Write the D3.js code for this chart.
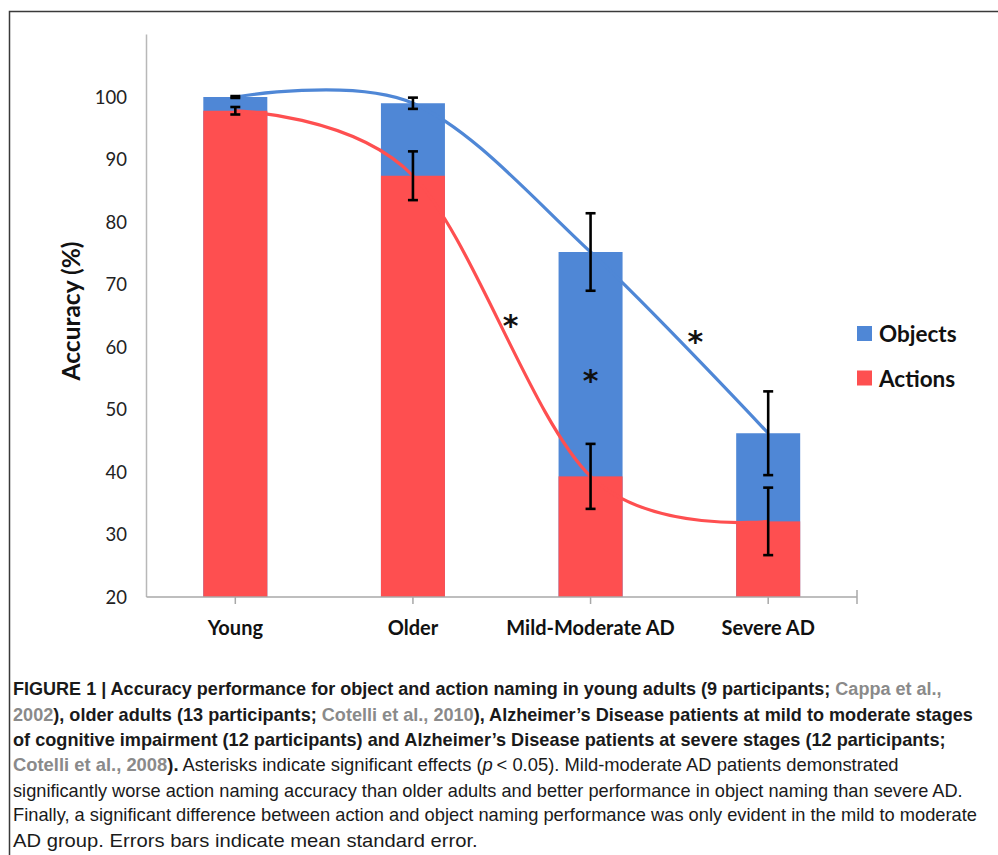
<!DOCTYPE html>
<html>
<head>
<meta charset="utf-8">
<script src="https://d3js.org/d3.v7.min.js"></script>
<style>
  body, html { margin: 0; padding: 0; background: #fff; }
  svg { display: block; }
</style>
</head>
<body>
<div id="chart"></div>
<script>
// data
var categories = ["Young", "Older", "Mild-Moderate AD", "Severe AD"];
var objects = [100.0, 99.0, 75.2, 46.2];
var objectsErr = [0.15, 0.9, 6.2, 6.7];
var actions = [97.8, 87.4, 39.3, 32.1];
var actionsErr = [0.6, 3.9, 5.2, 5.4];
var yTicks = [20, 30, 40, 50, 60, 70, 80, 90, 100];
// asterisks: position on the category axis (0 = Young) and value
var stars = [{pos: 1.55, val: 64.0}, {pos: 2.0, val: 55.2}, {pos: 2.59, val: 61.4}];

var blue = "#4f87d6", red = "#fe4f50";

var W = 998, H = 855;
var svg = d3.select("#chart").append("svg")
    .attr("width", W).attr("height", H);

// frame of the figure
svg.append("path")
    .attr("d", "M998,11.5H9.5V855")
    .attr("fill", "none")
    .attr("stroke", "#3a3a3a")
    .attr("stroke-width", 1.5);

var x = d3.scaleBand().domain(categories).range([146.5, 857]).padding(0);
var y = d3.scaleLinear().domain([20, 100]).range([597, 97]);
var cx = function(i) { return x(categories[i]) + x.bandwidth() / 2; };
var pos = function(p) { return x.range()[0] + x.bandwidth() * (p + 0.5); };
var barW = 64;

var font = "Lato, 'Open Sans', sans-serif";

// y axis
svg.append("line")
    .attr("x1", 146.5).attr("x2", 146.5)
    .attr("y1", y(110)).attr("y2", y(20))
    .attr("stroke", "#b8b8b8").attr("stroke-width", 1.5);

svg.append("g").selectAll("text").data(yTicks).join("text")
    .attr("x", 127).attr("y", function(d) { return y(d) + 6.5; })
    .attr("text-anchor", "end")
    .attr("font-family", font).attr("font-size", 18.5)
    .attr("fill", "#222")
    .text(function(d) { return d; });

svg.append("text")
    .attr("transform", "translate(80,311) rotate(-90)")
    .attr("text-anchor", "middle")
    .attr("font-family", font).attr("font-weight", "bold")
    .attr("font-size", 24.5).attr("fill", "#111")
    .text("Accuracy (%)");

// bars: objects behind, actions in front
svg.append("g").selectAll("rect").data(objects).join("rect")
    .attr("x", function(d, i) { return cx(i) - barW / 2; })
    .attr("width", barW)
    .attr("y", function(d) { return y(d); })
    .attr("height", function(d) { return y(20) - y(d); })
    .attr("fill", blue);

svg.append("g").selectAll("rect").data(actions).join("rect")
    .attr("x", function(d, i) { return cx(i) - barW / 2; })
    .attr("width", barW)
    .attr("y", function(d) { return y(d); })
    .attr("height", function(d) { return y(20) - y(d); })
    .attr("fill", red);

// x axis
var xAxis = svg.append("g").attr("transform", "translate(0," + y(20) + ")");
xAxis.append("line")
    .attr("x1", 146.5).attr("x2", 857)
    .attr("stroke", "#a8a8a8").attr("stroke-width", 1.5);
xAxis.selectAll("line.tk").data(categories).join("line")
    .attr("class", "tk")
    .attr("x1", function(d, i) { return cx(i); })
    .attr("x2", function(d, i) { return cx(i); })
    .attr("y1", 0).attr("y2", 7)
    .attr("stroke", "#a8a8a8").attr("stroke-width", 1.5);
xAxis.append("line")
    .attr("x1", 857).attr("x2", 857).attr("y1", -7).attr("y2", 7)
    .attr("stroke", "#a8a8a8").attr("stroke-width", 1.5);
xAxis.selectAll("text").data(categories).join("text")
    .attr("x", function(d, i) { return cx(i); })
    .attr("y", 38)
    .attr("text-anchor", "middle")
    .attr("font-family", font).attr("font-weight", "bold")
    .attr("font-size", 20).attr("fill", "#111")
    .text(function(d) { return d; });

// smoothed trend lines
var line = d3.line()
    .x(function(d, i) { return cx(i); })
    .y(function(d) { return y(d); })
    .curve(d3.curveCardinal.tension(0));

svg.append("path").datum(objects)
    .attr("d", line).attr("fill", "none")
    .attr("stroke", blue).attr("stroke-width", 3.2);
svg.append("path").datum(actions)
    .attr("d", line).attr("fill", "none")
    .attr("stroke", red).attr("stroke-width", 3.2);

// error bars
function errBars(vals, errs) {
    var g = svg.append("g").attr("stroke", "#000").attr("stroke-width", 2.6);
    vals.forEach(function(v, i) {
        var c = cx(i), t = y(v + errs[i]), b = y(v - errs[i]);
        g.append("line").attr("x1", c).attr("x2", c).attr("y1", t).attr("y2", b);
        g.append("line").attr("x1", c - 5).attr("x2", c + 5).attr("y1", t).attr("y2", t);
        g.append("line").attr("x1", c - 5).attr("x2", c + 5).attr("y1", b).attr("y2", b);
    });
}
errBars(objects, objectsErr);
errBars(actions, actionsErr);

// significance asterisks
svg.append("g").selectAll("text").data(stars).join("text")
    .attr("x", function(d) { return pos(d.pos); })
    .attr("y", function(d) { return y(d.val) + 14; })
    .attr("text-anchor", "middle")
    .attr("font-family", "'DejaVu Sans', sans-serif").attr("font-weight", "bold")
    .attr("font-size", 30).attr("fill", "#111")
    .text("*");

// legend
var legend = svg.append("g").attr("transform", "translate(857,326)");
[["Objects", blue], ["Actions", red]].forEach(function(d, i) {
    var row = legend.append("g").attr("transform", "translate(0," + (i * 44.5) + ")");
    row.append("rect").attr("width", 15).attr("height", 15).attr("fill", d[1]);
    row.append("text")
        .attr("x", 22).attr("y", 16)
        .attr("font-family", font).attr("font-weight", "bold")
        .attr("font-size", 22.5).attr("fill", "#111")
        .text(d[0]);
});

// caption
var gray = "#8a8a8a", ink = "#1a1a1a";
var caption = [
    {base: 695, end: 942, parts: [
        ["FIGURE 1 | Accuracy performance for object and action naming in young adults (9 participants; ", "b", ink],
        ["Cappa et al.,", "b", gray]]},
    {base: 721, end: 973, parts: [
        ["2002", "b", gray], ["), older adults (13 participants; ", "b", ink],
        ["Cotelli et al., 2010", "b", gray],
        ["), Alzheimer\u2019s Disease patients at mild to moderate stages", "b", ink]]},
    {base: 746, end: 946, parts: [
        ["of cognitive impairment (12 participants) and Alzheimer\u2019s Disease patients at severe stages (12 participants;", "b", ink]]},
    {base: 771, end: 899, parts: [
        ["Cotelli et al., 2008", "b", gray], [").", "b", ink],
        [" Asterisks indicate significant effects (", "n", ink], ["p", "i", ink],
        ["\u2009< 0.05). Mild-moderate AD patients demonstrated", "n", ink]]},
    {base: 797, end: 963, parts: [
        ["significantly worse action naming accuracy than older adults and better performance in object naming than severe AD.", "n", ink]]},
    {base: 821, end: 978, parts: [
        ["Finally, a significant difference between action and object naming performance was only evident in the mild to moderate", "n", ink]]},
    {base: 847, end: 478, parts: [
        ["AD group. Errors bars indicate mean standard error.", "n", ink]]}
];

var capX = 13;
caption.forEach(function(ln) {
    var t = svg.append("text")
        .attr("font-family", "'Liberation Sans', Arial, sans-serif")
        .attr("font-size", 18);
    ln.parts.forEach(function(p) {
        t.append("tspan")
            .attr("font-weight", p[1] === "b" ? "bold" : "normal")
            .attr("font-style", p[1] === "i" ? "italic" : "normal")
            .attr("fill", p[2])
            .text(p[0]);
    });
    var k = (ln.end - capX) / t.node().getComputedTextLength();
    t.attr("transform", "translate(" + capX + "," + ln.base + ") scale(" + k + ",1)");
});
</script>
</body>
</html>
